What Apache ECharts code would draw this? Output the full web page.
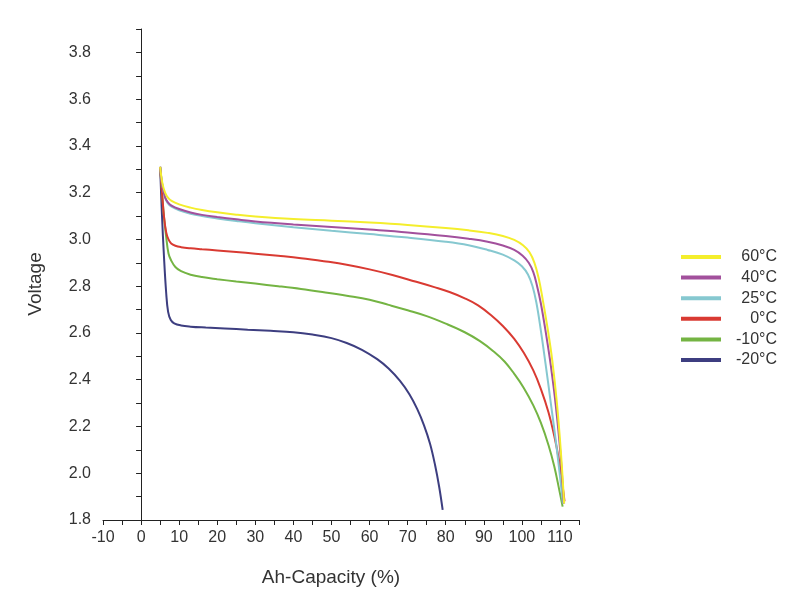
<!DOCTYPE html>
<html>
<head>
<meta charset="utf-8">
<title>Discharge curves</title>
<script src="https://cdn.jsdelivr.net/npm/echarts@6.0.0/dist/echarts.min.js"></script>
<style>
    html, body { margin: 0; padding: 0; background: #fff; }
    #chart { width: 800px; height: 600px; }
</style>
</head>
<body>
<div id="chart"></div>
<script>
// capacity (%) , voltage pairs
const t60 = [[5, 3.31], [5.6, 3.24], [6.3, 3.2], [7, 3.18], [8, 3.165], [10, 3.15], [13, 3.136], [16, 3.126], [20, 3.116],
    [25, 3.106], [30, 3.098], [40, 3.087], [50, 3.08], [60, 3.072], [70, 3.062], [80, 3.049], [86, 3.039], [91, 3.028],
    [95, 3.015], [98, 2.998], [100.3, 2.975], [102, 2.945], [103.3, 2.9], [104.4, 2.835], [105.5, 2.74], [106.8, 2.615],
    [108, 2.48], [109.2, 2.3], [110.2, 2.1], [111.1, 1.87]]
const t40 = [[5, 3.31], [5.6, 3.23], [6.3, 3.18], [7, 3.16], [8, 3.145], [10, 3.13], [13, 3.115], [16, 3.105], [20, 3.096],
    [25, 3.086], [30, 3.077], [40, 3.064], [50, 3.053], [60, 3.042], [70, 3.03], [80, 3.015], [86, 3.003], [91, 2.99],
    [95, 2.974], [98, 2.955], [100.2, 2.93], [101.8, 2.9], [103, 2.86], [104, 2.8], [105, 2.725], [106.3, 2.6],
    [107.6, 2.46], [108.9, 2.29], [110.1, 2.09], [111, 1.87]]
const t25 = [[5, 3.31], [5.6, 3.23], [6.3, 3.18], [7, 3.155], [8, 3.14], [10, 3.125], [13, 3.11], [16, 3.1], [20, 3.09],
    [25, 3.079], [30, 3.069], [40, 3.052], [50, 3.037], [60, 3.023], [70, 3.008], [80, 2.99], [86, 2.975], [91, 2.955],
    [95, 2.935], [98, 2.91], [100, 2.885], [101.6, 2.85], [102.8, 2.8], [103.8, 2.73], [104.9, 2.62], [106.2, 2.47],
    [107.6, 2.3], [109.2, 2.1], [110.8, 1.87]]
const t0 = [[5, 3.31], [5.5, 3.2], [6, 3.1], [6.6, 3.03], [7.2, 3.0], [7.9, 2.983], [9, 2.973], [10.5, 2.967], [13, 2.962],
    [16, 2.958], [20, 2.953], [25, 2.946], [30, 2.939], [36, 2.93], [42, 2.92], [48, 2.907], [54, 2.892], [60, 2.872],
    [66, 2.848], [72, 2.82], [77, 2.796], [81, 2.775], [85, 2.748], [88.5, 2.718], [92, 2.675], [95, 2.63], [98, 2.575],
    [100.5, 2.515], [103, 2.44], [105, 2.36], [107, 2.26], [108.5, 2.16], [109.7, 2.06], [110.5, 1.97], [111.2, 1.88]]
const tm10 = [[5, 3.31], [5.5, 3.2], [6, 3.1], [6.6, 3.01], [7.2, 2.94], [7.9, 2.91], [9, 2.882], [10.5, 2.864], [13, 2.849],
    [16, 2.839], [20, 2.83], [25, 2.82], [30, 2.811], [36, 2.8], [42, 2.788], [48, 2.774], [54, 2.759], [60, 2.742],
    [65, 2.72], [70, 2.697], [75, 2.672], [80, 2.64], [85, 2.603], [89, 2.565], [92.5, 2.522], [95.5, 2.477], [98, 2.425],
    [100.5, 2.365], [103, 2.29], [105, 2.215], [107, 2.12], [108.5, 2.03], [109.8, 1.93], [110.7, 1.857]]
const tm20 = [[5, 3.31], [5.5, 3.1], [6, 2.93], [6.6, 2.77], [7.1, 2.69], [7.8, 2.655], [8.7, 2.641], [10.5, 2.632], [13, 2.627],
    [17, 2.623], [22, 2.619], [28, 2.614], [34, 2.609], [40, 2.603], [45, 2.593], [50, 2.578], [54, 2.557], [58, 2.528],
    [62, 2.488], [65, 2.448], [68, 2.395], [70.5, 2.337], [72.5, 2.275], [74.3, 2.205], [75.9, 2.125], [77.2, 2.035],
    [78.3, 1.94], [79.2, 1.843]]

const names = ['60°C', '40°C', '25°C', '0°C', '-10°C', '-20°C']
const curves = [t60, t40, t25, t0, tm10, tm20]
const colors = ['#f4ee2c', '#a2509c', '#86c8d0', '#d93a32', '#74b443', '#3d3e80']

const myChart = echarts.init(document.getElementById('chart'))

const axisColor = '#222'
const labelColor = '#333'
const font = 'Liberation Sans, Arial, sans-serif'

const option = {
    animation: false,
    backgroundColor: '#fff',
    grid: {
        left: 103,
        right: 221,
        top: 29,
        bottom: 80
    },
    legend: {
        orient: 'vertical',
        left: 676,
        top: 244,
        icon: 'rect',
        itemWidth: 40,
        itemHeight: 4,
        itemGap: 4.6,
        data: names,
        formatter: function (name) { return '{t|' + name + '}' },
        textStyle: {
            rich: {
                t: {
                    width: 51,
                    align: 'right',
                    fontSize: 16,
                    lineHeight: 16,
                    fontFamily: font,
                    color: labelColor
                }
            }
        }
    },
    xAxis: {
        type: 'value',
        min: -10,
        max: 115,
        interval: 5,
        name: 'Ah-Capacity (%)',
        nameLocation: 'middle',
        nameGap: 48,
        nameTextStyle: {
            fontSize: 19,
            fontFamily: font,
            color: labelColor,
            padding: [0, 20, 0, 0]
        },
        axisLine: { lineStyle: { color: axisColor, width: 1 } },
        axisTick: { length: 5, lineStyle: { color: axisColor } },
        axisLabel: {
            margin: 10,
            fontSize: 16,
            fontFamily: font,
            color: labelColor,
            formatter: function (v) { return (v % 10 === 0 && v <= 110) ? String(v) : '' }
        },
        splitLine: { show: false }
    },
    yAxis: {
        type: 'value',
        min: 1.8,
        max: 3.9,
        interval: 0.1,
        name: 'Voltage',
        nameLocation: 'middle',
        nameGap: 58,
        nameTextStyle: {
            fontSize: 19,
            fontFamily: font,
            color: labelColor,
            padding: [0, 19, 0, 0]
        },
        axisLine: { show: true, lineStyle: { color: axisColor, width: 1 } },
        axisTick: { show: true, length: 5, lineStyle: { color: axisColor } },
        axisLabel: {
            margin: 12,
            fontSize: 16,
            fontFamily: font,
            color: labelColor,
            formatter: function (v) {
                const k = Math.round(v * 10)
                return (k % 2 === 0 && k <= 38) ? v.toFixed(1) : ''
            }
        },
        splitLine: { show: false }
    },
    series: names.map(function (name, i) {
        return {
            name: name,
            type: 'line',
            data: curves[i],
            symbol: 'none',
            smooth: 0.4,
            lineStyle: { color: colors[i], width: 2 },
            itemStyle: { color: colors[i] },
            z: 10 - i
        }
    })
}

myChart.setOption(option)
</script>
</body>
</html>
